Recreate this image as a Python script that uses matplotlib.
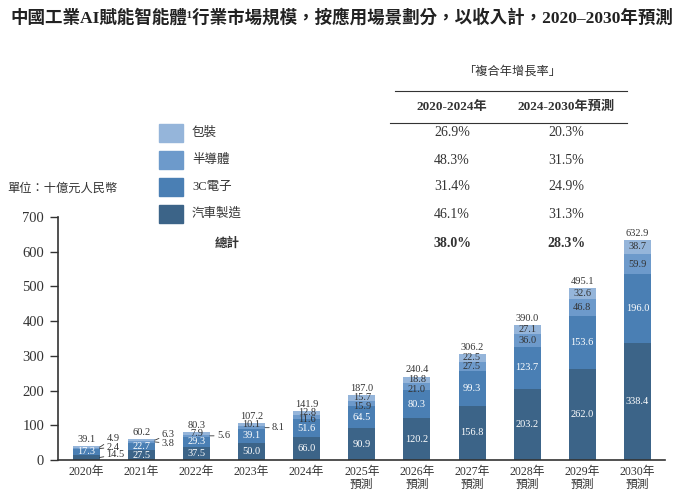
import matplotlib
matplotlib.use("Agg")
import matplotlib.pyplot as plt
from matplotlib.patches import Rectangle
from matplotlib.lines import Line2D
import numpy as np

# data (十億元人民幣)
years = ['2020年', '2021年', '2022年', '2023年', '2024年', '2025年\n預測', '2026年\n預測',
         '2027年\n預測', '2028年\n預測', '2029年\n預測', '2030年\n預測']
auto = [14.5, 27.5, 37.5, 50.0, 66.0, 90.9, 120.2, 156.8, 203.2, 262.0, 338.4]
electronics = [17.3, 22.7, 29.3, 39.1, 51.6, 64.5, 80.3, 99.3, 123.7, 153.6, 196.0]
semi = [2.4, 3.8, 5.6, 8.1, 11.6, 15.9, 21.0, 27.5, 36.0, 46.8, 59.9]
packaging = [4.9, 6.3, 7.9, 10.1, 12.8, 15.7, 18.8, 22.5, 27.1, 32.6, 38.7]
totals = [39.1, 60.2, 80.3, 107.2, 141.9, 187.0, 240.4, 306.2, 390.0, 495.1, 632.9]

segment_names = ['包裝', '半導體', '3C電子', '汽車製造']
cagr_2020_2024 = ['26.9%', '48.3%', '31.4%', '46.1%']
cagr_2024_2030 = ['20.3%', '31.5%', '24.9%', '31.3%']
total_cagr = ['38.0%', '28.3%']

SERIF = ['Liberation Serif', 'Noto Sans CJK TC']
CJK = ['Noto Sans CJK TC', 'DejaVu Sans']
colors = {'auto': '#3c6488', 'cc': '#4a7fb4', 'semi': '#6d9acb', 'pack': '#95b5da'}
legend_colors = [colors['pack'], colors['semi'], colors['cc'], colors['auto']]
txt_dark = '#333333'

W, H = 684, 498
def fx(px):
    return px / W
def fy(py):
    return 1 - py / H

fig = plt.figure(figsize=(W / 100, H / 100), dpi=100)
ax = fig.add_axes([fx(58), fy(460), (665 - 58) / W, (460 - 217) / H])

x = np.arange(len(years))
bw = 0.49
series = [(auto, colors['auto'], 'white'),
          (electronics, colors['cc'], 'white'),
          (semi, colors['semi'], txt_dark),
          (packaging, colors['pack'], txt_dark)]

# labels drawn outside the bar with a leader line: (bar index, series index) -> offset in points
outside = {(0, 0): (5, 2), (0, 2): (5, 1), (0, 3): (5, 6.5),
           (1, 2): (5, -1), (1, 3): (5, 4),
           (2, 2): (5, 0), (3, 2): (5, 0)}

bottom = np.zeros(len(years))
for si, (vals, col, tcol) in enumerate(series):
    vals = np.array(vals)
    ax.bar(x, vals, bw, bottom=bottom, color=col, edgecolor='none', zorder=2)
    for i, v in enumerate(vals):
        yc = bottom[i] + v / 2
        if (i, si) in outside:
            dx, dy = outside[(i, si)]
            ax.annotate(f'{v:.1f}', xy=(x[i] + bw / 2, yc), xytext=(dx, dy),
                        textcoords='offset points', ha='left', va='center',
                        fontsize=7.5, family=SERIF, color=txt_dark,
                        arrowprops=dict(arrowstyle='-', lw=0.6, color=txt_dark,
                                        shrinkA=0, shrinkB=0))
        elif not (i == 0 and si == 0):
            # push the thin semiconductor label down a little where both small labels sit inside
            nudge = -2 if (i >= 4 and v < 22 and si == 2) else 0
            ax.annotate(f'{v:.1f}', xy=(x[i], yc), xytext=(0, nudge),
                        textcoords='offset points', ha='center', va='center',
                        fontsize=7.5, family=SERIF, color=tcol, zorder=3)
    bottom = bottom + vals

for i, t in enumerate(totals):
    ax.annotate(f'{t:.1f}', xy=(x[i], bottom[i]), xytext=(0, 1.5),
                textcoords='offset points', ha='center', va='bottom',
                fontsize=7.5, family=SERIF, color=txt_dark)

ax.set_xlim(-0.51, 10.5)
ax.set_ylim(0, 700)
ax.set_yticks(range(0, 701, 100))
ax.set_xticks(x)
ax.set_xticklabels(years, family=SERIF, fontsize=8.5, color=txt_dark, linespacing=1.1)
for lab in ax.get_yticklabels():
    lab.set_family(SERIF)
    lab.set_fontsize(10.5)
    lab.set_color(txt_dark)
ax.tick_params(axis='x', length=0, pad=4)
ax.tick_params(axis='y', length=6, width=1, color=txt_dark, pad=4)
for s in ['top', 'right']:
    ax.spines[s].set_visible(False)
for s in ['left', 'bottom']:
    ax.spines[s].set_color(txt_dark)
    ax.spines[s].set_linewidth(1.2)

# title
fig.text(fx(10), fy(18), '中國工業AI賦能智能體¹行業市場規模，按應用場景劃分，以收入計，2020–2030年預測',
         ha='left', va='center', fontsize=12.6, fontweight='bold', family=SERIF, color='#222222')

# unit
fig.text(fx(7), fy(188), '單位：十億元人民幣', ha='left', va='center',
         fontsize=8.8, style='italic', family=CJK, color=txt_dark)

# CAGR table
col1, col2 = 452, 566
fig.text(fx(512), fy(71), '「複合年增長率」', ha='center', va='center',
         fontsize=8.8, family=CJK, color=txt_dark)
fig.add_artist(Line2D([fx(395), fx(627)], [fy(91), fy(91)], color=txt_dark, lw=0.8))
fig.add_artist(Line2D([fx(390), fx(627)], [fy(123), fy(123)], color=txt_dark, lw=0.8))
fig.text(fx(col1), fy(107), '2020-2024年', ha='center', va='center',
         fontsize=9.5, fontweight='bold', family=SERIF, color=txt_dark)
fig.text(fx(col2), fy(107), '2024-2030年預測', ha='center', va='center',
         fontsize=9.5, fontweight='bold', family=SERIF, color=txt_dark)

row_y = [133, 160, 187, 214]
for name, c, a, b, ry in zip(segment_names, legend_colors, cagr_2020_2024, cagr_2024_2030, row_y):
    fig.add_artist(Rectangle((fx(159), fy(ry + 9)), 24 / W, 18 / H, color=c,
                             transform=fig.transFigure))
    fig.text(fx(192), fy(ry), name, ha='left', va='center', fontsize=9,
             family=SERIF, color=txt_dark)
    fig.text(fx(col1), fy(ry), a, ha='center', va='center', fontsize=10,
             family=SERIF, color=txt_dark)
    fig.text(fx(col2), fy(ry), b, ha='center', va='center', fontsize=10,
             family=SERIF, color=txt_dark)

fig.text(fx(240), fy(243), '總計', ha='right', va='center', fontsize=9,
         fontweight='bold', family=CJK, color=txt_dark)
fig.text(fx(col1), fy(243), total_cagr[0], ha='center', va='center', fontsize=10,
         fontweight='bold', family=SERIF, color=txt_dark)
fig.text(fx(col2), fy(243), total_cagr[1], ha='center', va='center', fontsize=10,
         fontweight='bold', family=SERIF, color=txt_dark)

fig.savefig('out.png', dpi=100)
